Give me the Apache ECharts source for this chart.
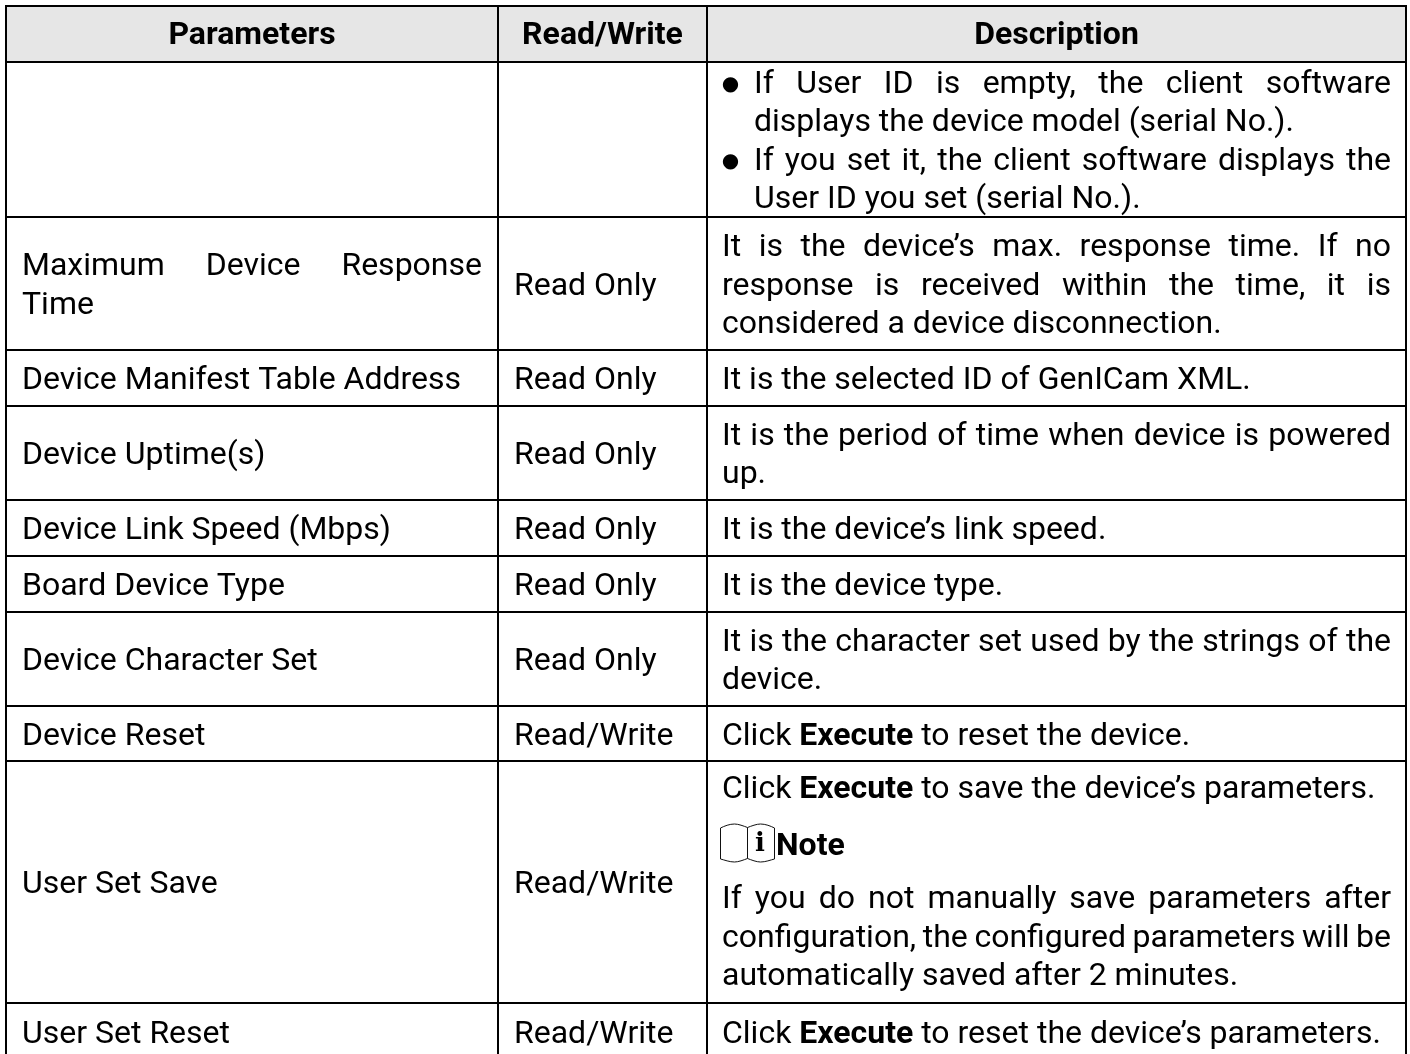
<!DOCTYPE html>
<html>
<head>
<meta charset="utf-8">
<style>
  html, body { margin: 0; padding: 0; background: #fff; }
  #chart { width: 1410px; height: 1054px; }
</style>
</head>
<body>
<div id="chart"></div>
<script src="https://cdn.jsdelivr.net/npm/echarts@6/dist/echarts.min.js"></script>
<script>
  // table content, one entry per row
  var headers = ['Parameters', 'Read/Write', 'Description'];
  var parameters = [
    [],
    ['Maximum Device Response', 'Time'],
    ['Device Manifest Table Address'],
    ['Device Uptime(s)'],
    ['Device Link Speed (Mbps)'],
    ['Board Device Type'],
    ['Device Character Set'],
    ['Device Reset'],
    ['User Set Save'],
    ['User Set Reset']
  ];
  var accessModes = ['', 'Read Only', 'Read Only', 'Read Only', 'Read Only', 'Read Only', 'Read Only', 'Read/Write', 'Read/Write', 'Read/Write'];
  // rows -> paragraphs -> lines. last line of a paragraph is not justified
  var descriptions = [
    [['\u25CF If User ID is empty, the client software', '  displays the device model (serial No.).'],
     ['\u25CF If you set it, the client software displays the', '  User ID you set (serial No.).']],
    [['It is the device\u2019s max. response time. If no', 'response is received within the time, it is', 'considered a device disconnection.']],
    [['It is the selected ID of GenICam XML.']],
    [['It is the period of time when device is powered', 'up.']],
    [['It is the device\u2019s link speed.']],
    [['It is the device type.']],
    [['It is the character set used by the strings of the', 'device.']],
    [['Click **Execute** to reset the device.']],
    [['Click **Execute** to save the device\u2019s parameters.'],
     ['**Note**'],
     ['If you do not manually save parameters after', 'configuration, the configured parameters will be', 'automatically saved after 2 minutes.']],
    [['Click **Execute** to reset the device\u2019s parameters.']]
  ];

  // layout, in page pixels
  var colEdges = [6, 498, 707, 1406];
  var rowEdges = [6, 62, 217, 350, 406, 500, 556, 612, 706, 761, 1003, 1060];
  var cellPad = [16, 16, 15];
  var lineStep = 38.5;
  var textShift = 3;
  var noteRow = 8;
  var noteRowLines = [790, 847, 900, 939, 977];
  var bookPath = 'M0 4L0 35C4 36 9 38 14 38C18 38 23 36 27 34.5C31 36 36 38 40 38C45 38 50 36 54 35L54 4C50 2 45 0 40 0C36 0 31 2 27 3.5C23 2 18 0 14 0C9 0 4 2 0 4ZM27 3.5L27 34.5';

  var fontFamily = 'Roboto, sans-serif';
  var fontSize = 32;
  var regular = fontSize + 'px ' + fontFamily;
  var bold = 'bold ' + fontSize + 'px ' + fontFamily;
  var textColor = '#000';

  var ctx = document.createElement('canvas').getContext('2d');
  function widthOf(str, font) {
    ctx.font = font;
    return ctx.measureText(str).width;
  }

  // splits a line with **bold** markup to words
  function toWords(line) {
    var words = [];
    line.trim().split(' ').forEach(function (w) {
      var isBold = w.indexOf('**') === 0;
      var t = w.replace(/\*\*/g, '');
      words.push({text: t, font: isBold ? bold : regular, width: widthOf(t, isBold ? bold : regular)});
    });
    return words;
  }

  function textEl(text, x, y, font, align) {
    return {
      type: 'text',
      style: {text: text, x: x, y: y, font: font, fill: textColor, textAlign: align || 'left', textVerticalAlign: 'middle'}
    };
  }

  // puts one line between left and right, stretching spaces if justify is set
  function lineEls(line, left, right, y, justify) {
    var out = [];
    var x = left;
    if (line.indexOf('\u25CF') === 0) {
      out.push({type: 'text', style: {text: '\u25CF', x: left + 8.5, y: y, font: '20px "DejaVu Sans"', fill: textColor, textAlign: 'center', textVerticalAlign: 'middle'}});
      line = line.slice(1);
    }
    if (line.charAt(0) === ' ') {
      x = left + 32;
    }
    var words = toWords(line);
    var total = 0;
    words.forEach(function (w) { total += w.width; });
    var space = widthOf(' ', regular);
    if (justify && words.length > 1) {
      space = (right - x - total) / (words.length - 1);
    }
    words.forEach(function (w) {
      out.push(textEl(w.text, x, y, w.font));
      x += w.width + space;
    });
    return out;
  }

  function renderRow(params, api) {
    var row = api.value(0);
    var children = [];
    var top = api.coord([colEdges[0], rowEdges[row]])[1];
    var bottom = api.coord([colEdges[0], rowEdges[row + 1]])[1];
    var mid = (top + bottom) / 2 + textShift;
    var lineStyle = {stroke: '#000', lineWidth: 2};

    if (row === 0) {
      children.push({
        type: 'rect',
        shape: {x: colEdges[0], y: top, width: colEdges[3] - colEdges[0], height: bottom - top},
        style: {fill: '#e6e6e6'}
      });
      headers.forEach(function (h, c) {
        children.push(textEl(h, (colEdges[c] + colEdges[c + 1]) / 2, mid - 1, bold, 'center'));
      });
    } else {
      var r = row - 1;
      var pLines = parameters[r];
      pLines.forEach(function (l, i) {
        var y = mid + (i - (pLines.length - 1) / 2) * lineStep;
        children = children.concat(lineEls(l, colEdges[0] + cellPad[0], colEdges[1] - cellPad[0], y, i < pLines.length - 1));
      });
      if (accessModes[r]) {
        children.push(textEl(accessModes[r], colEdges[1] + cellPad[1], mid, regular));
      }
      var count = 0;
      descriptions[r].forEach(function (p) { count += p.length; });
      var n = 0;
      descriptions[r].forEach(function (p) {
        p.forEach(function (l, i) {
          var y = r === noteRow ? noteRowLines[n] : mid + (n - (count - 1) / 2) * lineStep;
          var left = colEdges[2] + cellPad[2];
          if (l === '**Note**') {
            children.push({type: 'path', x: left - 1.5, y: y - 23, shape: {pathData: bookPath}, style: {stroke: '#111', fill: null, lineWidth: 1}});
            children.push({type: 'text', style: {text: 'i', x: left + 38, y: y - 3, font: 'bold 26px "DejaVu Serif"', fill: '#000', textAlign: 'center', textVerticalAlign: 'middle'}});
            children.push(textEl('Note', left + 54, y, bold));
          } else {
            children = children.concat(lineEls(l, left, colEdges[3] - cellPad[2], y, i < p.length - 1));
          }
          n++;
        });
      });
    }

    // cell borders
    children.push({type: 'line', shape: {x1: colEdges[0] - 1, y1: top, x2: colEdges[3] + 1, y2: top}, style: lineStyle});
    colEdges.forEach(function (x) {
      children.push({type: 'line', shape: {x1: x, y1: top, x2: x, y2: bottom}, style: lineStyle});
    });
    return {type: 'group', children: children};
  }

  var rowIndex = [];
  for (var i = 0; i < rowEdges.length - 1; i++) {
    rowIndex.push([i]);
  }

  var chart = echarts.init(document.getElementById('chart'));
  chart.setOption({
    animation: false,
    backgroundColor: '#fff',
    grid: {left: 0, right: 0, top: 0, bottom: 0},
    xAxis: {type: 'value', min: 0, max: 1410, show: false},
    yAxis: {type: 'value', min: 0, max: 1054, inverse: true, show: false},
    series: [{
      type: 'custom',
      coordinateSystem: 'cartesian2d',
      clip: true,
      silent: true,
      renderItem: renderRow,
      encode: {y: 0},
      data: rowIndex
    }]
  });
</script>
</body>
</html>
